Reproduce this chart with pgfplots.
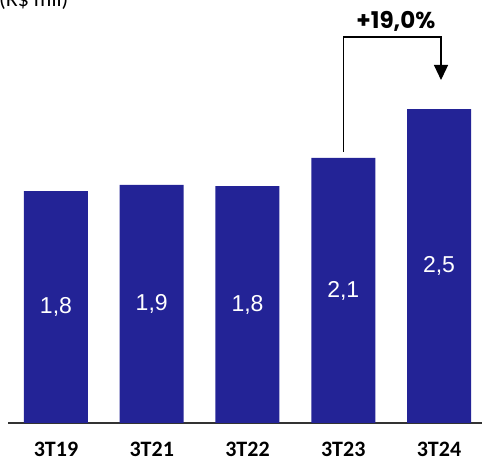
\documentclass[border=0pt]{standalone}
\usepackage{pgfplots}
\pgfplotsset{compat=1.18}
\usepackage{fontspec}
\setmainfont{Carlito}
\newfontfamily\pop{Poppins}
\newfontfamily\ars{Liberation Sans}
\usetikzlibrary{arrows.meta}
\definecolor{barblue}{RGB}{35,35,150}
\begin{document}
\begin{tikzpicture}[x=1pt,y=1pt]
\useasboundingbox (0,0) rectangle (482,463);
\node[anchor=base west, inner sep=0pt, font=\fontsize{22}{24}\selectfont] at (-1,456) {(R\$ mil)};
\begin{axis}[
  at={(8pt,40pt)}, anchor=south west,
  scale only axis, width=474pt, height=423pt,
  xmin=-0.501, xmax=4.449, ymin=0, ymax=3.368,
  axis x line=bottom, axis y line=none,
  x axis line style={-, draw=black!80, line width=1.3pt},
  xtick={0,1,2,3,4},
  xticklabels={3T19,3T21,3T22,3T23,3T24},
  major tick length=0pt,
  xticklabel style={font=\bfseries\fontsize{22}{24}\selectfont, inner sep=0pt, yshift=-19pt},
  ytick=\empty,
  clip=false,
]
\addplot[ybar, bar width=64pt, fill=barblue, draw=none] coordinates {(0,1.847) (1,1.895) (2,1.887) (3,2.110) (4,2.5)};
\foreach \i/\h/\v in {0/1.847/{1,8},1/1.895/{1,9},2/1.887/{1,8},3/2.110/{2,1},4/2.5/{2,5}} {
  \edef\temp{\noexpand\node[text=white, font=\noexpand\ars\noexpand\fontsize{23}{25}\noexpand\selectfont] at (axis cs:\i,\h/2) {\v};}
  \temp
}
\node[font=\pop\bfseries\fontsize{23}{25}\selectfont] at (axis cs:3.55,3.20) {+19,0\%};
\draw[line width=1.2pt, -{Triangle[length=15pt,width=14pt]}] (axis cs:3,2.158) -- (axis cs:3,3.073) -- (axis cs:4.021,3.073) -- (axis cs:4.021,2.731);
\end{axis}
\end{tikzpicture}
\end{document}
